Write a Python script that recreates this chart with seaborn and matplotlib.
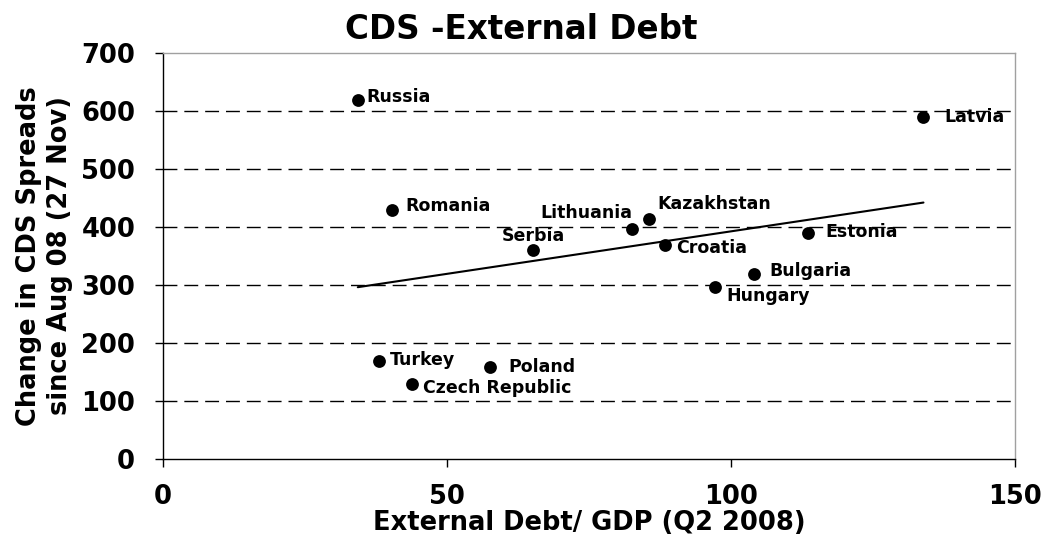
import matplotlib
matplotlib.use("Agg")
import matplotlib.pyplot as plt
import seaborn as sns
import pandas as pd

countries = ["Russia", "Latvia", "Romania", "Kazakhstan", "Lithuania", "Serbia",
             "Croatia", "Estonia", "Bulgaria", "Hungary", "Turkey", "Poland",
             "Czech Republic"]
ext_debt = [34.3, 133.9, 40.4, 85.6, 82.6, 65.2, 88.4, 113.5, 104.0, 97.2, 38.0, 57.6, 43.8]
cds_change = [619, 590, 429, 414, 397, 360, 369, 389, 319, 297, 169, 158, 130]

# label offsets in points (style only)
label_offsets = {
    "Russia": (6, 2, "left"), "Latvia": (15, 0, "left"), "Romania": (9, 3, "left"),
    "Kazakhstan": (6, 11, "left"), "Lithuania": (0, 11, "right"), "Serbia": (0, 10, "center"),
    "Croatia": (8, -2, "left"), "Estonia": (13, 1, "left"), "Bulgaria": (11, 2, "left"),
    "Hungary": (8, -7, "left"), "Turkey": (8, 1, "left"), "Poland": (13, 0, "left"),
    "Czech Republic": (8, -3, "left"),
}

df = pd.DataFrame({"country": countries, "x": ext_debt, "y": cds_change})

sns.set_style("white")
plt.rcParams["font.family"] = ["DejaVu Sans"]
plt.rcParams["font.weight"] = "bold"
plt.rcParams["text.color"] = "black"
plt.rcParams["axes.labelcolor"] = "black"
plt.rcParams["xtick.color"] = "black"
plt.rcParams["ytick.color"] = "black"

fig = plt.figure(figsize=(10.42, 5.39), dpi=100)
ax = fig.add_axes([0.1564, 0.1484, 0.8176, 0.7533])

for yv in range(100, 700, 100):
    ax.axhline(yv, color="black", lw=1.0, dashes=(10, 5), zorder=0)

sns.regplot(data=df, x="x", y="y", ax=ax, scatter=False, ci=None, truncate=True,
            line_kws={"color": "black", "lw": 1.5})
sns.scatterplot(data=df, x="x", y="y", ax=ax, color="black", s=85, edgecolor="black",
                linewidth=0, zorder=3)

for c, xv, yv in zip(countries, ext_debt, cds_change):
    dx, dy, ha = label_offsets[c]
    ax.annotate(c, (xv, yv), xytext=(dx, dy), textcoords="offset points",
                ha=ha, va="center", fontsize=12.5, fontweight="bold", color="black")

ax.set_xlim(0, 150)
ax.set_ylim(0, 700)
ax.set_xticks([0, 50, 100, 150])
ax.set_yticks(range(0, 800, 100))
ax.tick_params(axis="both", labelsize=18.5, length=6, width=1, color="black",
               labelcolor="black", direction="out", bottom=True, left=True)
ax.tick_params(axis="y", pad=14)
ax.tick_params(axis="x", pad=12)
for lab in ax.get_xticklabels() + ax.get_yticklabels():
    lab.set_fontweight("bold")

ax.spines["left"].set_color("black")
ax.spines["bottom"].set_color("black")
ax.spines["top"].set_color("#a0a0a0")
ax.spines["right"].set_color("#a0a0a0")
for s in ax.spines.values():
    s.set_linewidth(1)

ax.set_xlabel("External Debt/ GDP (Q2 2008)", fontsize=18.5, fontweight="bold",
              labelpad=0, color="black")
ax.set_ylabel("Change in CDS Spreads\nsince Aug 08 (27 Nov)", fontsize=18.5,
              fontweight="bold", labelpad=6, linespacing=1.25, color="black")
fig.suptitle("CDS -External Debt", x=0.5, y=0.975, va="top", fontsize=23.5,
             fontweight="bold", color="black")

fig.savefig("out.png", dpi=100, facecolor="white")
